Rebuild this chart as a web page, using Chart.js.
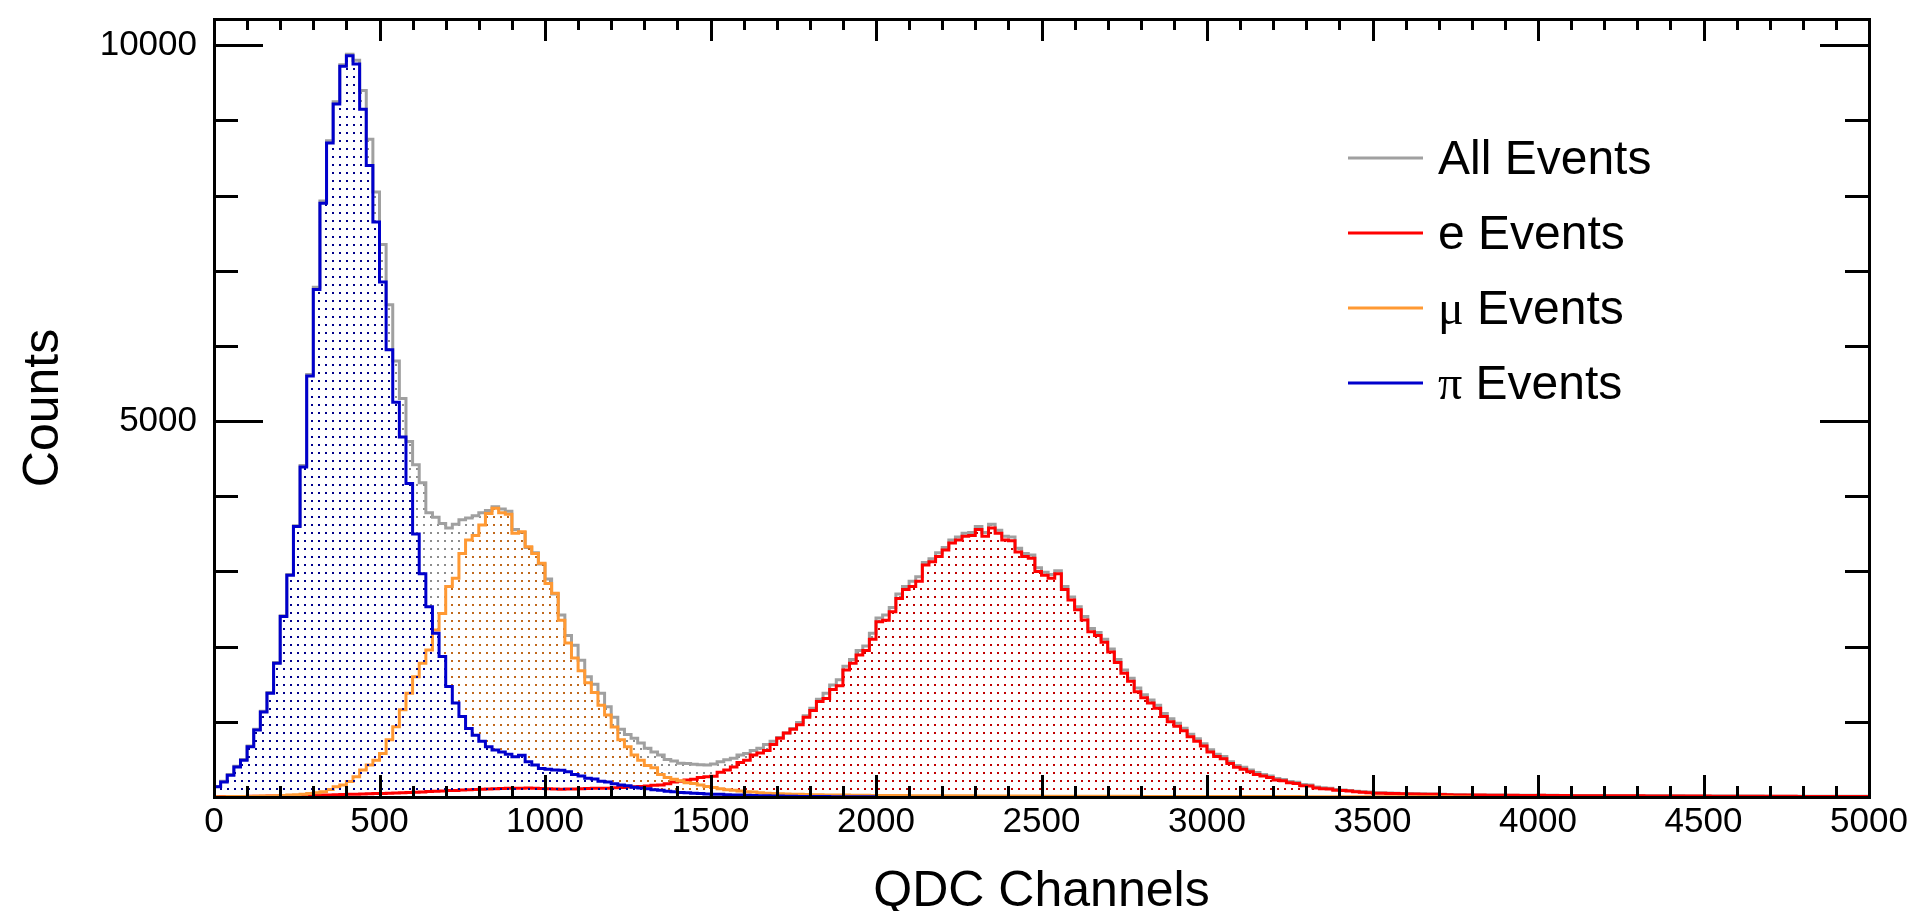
<!DOCTYPE html>
<html>
<head>
<meta charset="utf-8">
<title>QDC spectrum</title>
<script src="https://cdn.jsdelivr.net/npm/chart.js@4.4.1/dist/chart.umd.min.js"></script>
<style>
    html, body { margin: 0; padding: 0; background: #fff; }
    #wrap { width: 1916px; height: 911px; }
</style>
</head>
<body>
<div id="wrap"><canvas id="qdcChart" width="1916" height="911"></canvas></div>
<script>
// histogram bins are 20 QDC channels wide, first bin starts at channel 0
const binWidth = 20;

const xTickLabels = [0, 500, 1000, 1500, 2000, 2500, 3000, 3500, 4000, 4500, 5000];
const yTickLabels = [5000, 10000];

const seriesLabels = ['All Events', 'e Events', '\u03bc Events', '\u03c0 Events'];

const allEvents = [
    75, 140, 210, 300, 410, 500, 680, 900, 1140, 1390,
    1790, 2410, 2960, 3610, 4410, 5620, 6780, 7930, 8730, 9250,
    9740, 9880, 9800, 9400, 8750, 8050, 7350, 6550, 5800, 5300,
    4730, 4420, 4180, 3780, 3720, 3640, 3580, 3630, 3690, 3710,
    3740, 3780, 3810, 3860, 3830, 3800, 3560, 3520, 3320, 3250,
    3100, 2900, 2700, 2420, 2150, 2020, 1820, 1600, 1500, 1380,
    1200, 1060, 900, 830, 780, 720, 650, 600, 560, 500,
    480, 450, 445, 435, 428, 425, 440, 470, 495, 514,
    560, 580, 620, 650, 700, 740, 790, 850, 910, 990,
    1080, 1180, 1300, 1380, 1490, 1560, 1740, 1830, 1950, 2010,
    2180, 2380, 2420, 2520, 2700, 2800, 2870, 2930, 3120, 3170,
    3250, 3320, 3420, 3460, 3510, 3520, 3600, 3520, 3630, 3550,
    3470, 3460, 3310, 3240, 3220, 3050, 2990, 2960, 3010, 2800,
    2660, 2530, 2400, 2240, 2190, 2100, 1970, 1830, 1690, 1580,
    1450, 1360, 1290, 1220, 1110, 1040, 980, 915, 835, 775,
    710, 630, 570, 540, 470, 420, 395, 360, 325, 300,
    280, 245, 232, 205, 195, 165, 158, 132, 122, 118,
    100, 94, 88, 78, 70, 65, 57, 55, 53, 50,
    47, 45, 44, 42, 40, 39, 36, 34, 31, 30,
    28, 27, 27, 26, 25, 25, 24, 24, 23, 23,
    22, 24, 23, 22, 21, 21, 20, 20, 20, 19,
    19, 18, 18, 18, 17, 17, 17, 16, 16, 16,
    15, 15, 15, 14, 14, 14, 14, 13, 13, 13,
    13, 12, 12, 12, 12, 11, 11, 11, 11, 11,
    10, 10, 10, 10, 10, 9, 9, 9, 9, 9
];

const eEvents = [
    3, 4, 5, 6, 7, 8, 9, 10, 11, 12,
    14, 15, 17, 18, 20, 22, 24, 26, 28, 30,
    32, 35, 37, 40, 42, 45, 48, 50, 53, 56,
    60, 64, 68, 72, 76, 80, 85, 88, 92, 96,
    100, 103, 106, 110, 113, 115, 118, 116, 120, 117,
    112, 110, 106, 104, 105, 108, 110, 112, 115, 116,
    118, 122, 128, 132, 136, 140, 145, 155, 160, 175,
    200, 210, 225, 235, 260, 270, 275, 330, 360, 400,
    460, 490, 560, 585, 620, 700, 780, 850, 900, 960,
    1060, 1150, 1270, 1310, 1430, 1480, 1690, 1780, 1890, 1950,
    2100, 2330, 2350, 2465, 2640, 2760, 2800, 2870, 3085, 3130,
    3200, 3285, 3380, 3420, 3470, 3480, 3560, 3470, 3580, 3510,
    3420, 3410, 3260, 3200, 3175, 3000, 2950, 2910, 2970, 2760,
    2620, 2490, 2355, 2200, 2150, 2060, 1930, 1790, 1645, 1540,
    1400, 1320, 1250, 1180, 1070, 1000, 940, 880, 800, 740,
    680, 600, 540, 510, 445, 395, 370, 337, 300, 280,
    260, 226, 215, 190, 180, 150, 145, 120, 111, 108,
    90, 85, 80, 70, 62, 58, 50, 49, 48, 45,
    42, 40, 40, 38, 36, 35, 32, 30, 28, 27,
    26, 25, 25, 24, 23, 23, 22, 22, 21, 21,
    20, 22, 21, 20, 19, 19, 18, 18, 18, 17,
    17, 16, 16, 16, 15, 15, 15, 14, 14, 14,
    13, 13, 13, 12, 12, 12, 12, 11, 11, 11,
    11, 10, 10, 10, 10, 9, 9, 9, 9, 9,
    8, 8, 8, 8, 8, 7, 7, 7, 7, 7
];

const muEvents = [
    2, 3, 4, 5, 6, 7, 8, 10, 12, 14,
    17, 20, 25, 30, 38, 45, 55, 70, 100, 135,
    160, 205, 270, 360, 425, 490, 580, 760, 935, 1160,
    1380, 1600, 1780, 1955, 2220, 2440, 2800, 2910, 3240, 3420,
    3480, 3620, 3770, 3840, 3780, 3760, 3510, 3530, 3330, 3240,
    3110, 2840, 2710, 2350, 2050, 1850, 1680, 1520, 1390, 1220,
    1090, 930, 760, 670, 560, 490, 420, 390, 300, 260,
    235, 215, 190, 180, 160, 140, 125, 110, 95, 90,
    80, 70, 65, 55, 50, 45, 42, 40, 38, 35,
    33, 31, 30, 28, 27, 26, 25, 24, 23, 22,
    21, 21, 20, 20, 19, 19, 18, 18, 17, 17,
    16, 16, 16, 15, 15, 15, 14, 14, 14, 13,
    13, 13, 12, 12, 12, 12, 11, 11, 11, 11,
    10, 10, 10, 10, 10, 9, 9, 9, 9, 9,
    9, 8, 8, 8, 8, 8, 8, 7, 7, 7,
    7, 7, 7, 6, 6, 6, 6, 6, 6, 5,
    5, 5, 5, 5, 5, 4, 4, 4, 4, 4,
    4, 4, 3, 3, 3, 3, 3, 3, 3, 3,
    2, 2, 2, 2, 2, 2, 2, 2, 1, 1
];

const piEvents = [
    70, 135, 200, 290, 400, 490, 670, 890, 1130, 1380,
    1780, 2400, 2950, 3600, 4390, 5600, 6750, 7900, 8700, 9220,
    9720, 9860, 9750, 9150, 8400, 7650, 6850, 5950, 5250, 4790,
    4170, 3500, 2970, 2530, 2180, 1870, 1470, 1250, 1070, 910,
    820, 740, 670, 625, 600, 570, 535, 555, 470, 425,
    380, 370, 360, 355, 335, 300, 280, 250, 240, 210,
    200, 175, 160, 150, 130, 120, 110, 95, 90, 75,
    70, 60, 55, 50, 45, 40, 38, 35, 30, 28,
    25, 22, 20, 18, 15, 14, 12, 10, 9, 8,
    7, 6, 6, 5, 4, 4, 3, 3, 2, 2
];

const lineColors = ['#a0a0a0', '#ff0000', '#ff9933', '#0000cc'];
const dotColors = ['#8c8c8c', '#c00000', '#c0681c', '#00008b'];

const canvas = document.getElementById('qdcChart');
const ctx = canvas.getContext('2d');

// dotted fill like the ROOT fill style
function dotPattern(color) {
    const tile = document.createElement('canvas');
    tile.width = 7;
    tile.height = 8;
    const g = tile.getContext('2d');
    g.fillStyle = color;
    g.fillRect(3, 4, 2, 2);
    return ctx.createPattern(tile, 'repeat');
}

// bin contents -> points for a stepped line (one extra point closes the last bin)
function toSteps(values) {
    const pts = values.map((v, i) => ({ x: i * binWidth, y: v }));
    pts.push({ x: values.length * binWidth, y: values[values.length - 1] });
    return pts;
}

const seriesValues = [allEvents, eEvents, muEvents, piEvents];

const datasets = seriesValues.map((values, i) => ({
    label: seriesLabels[i],
    data: toSteps(values),
    borderColor: lineColors[i],
    backgroundColor: dotPattern(dotColors[i]),
    borderWidth: 3,
    fill: 'origin',
    stepped: 'after',
    pointRadius: 0,
    order: seriesValues.length - i
}));

// frame with ticks on all four sides, pointing inwards
const framePlugin = {
    id: 'frame',
    afterDatasetsDraw(chart) {
        const { ctx, chartArea: a, scales: { x, y } } = chart;
        ctx.save();
        ctx.strokeStyle = '#000';
        ctx.lineWidth = 3;
        ctx.beginPath();
        for (let v = 100; v < 5000; v += 100) {
            const px = Math.round(x.getPixelForValue(v)) + 0.5;
            const len = v % 500 === 0 ? 22 : 11;
            ctx.moveTo(px, a.bottom);
            ctx.lineTo(px, a.bottom - len);
            ctx.moveTo(px, a.top);
            ctx.lineTo(px, a.top + len);
        }
        for (let v = 1000; v <= 10000; v += 1000) {
            const py = Math.round(y.getPixelForValue(v)) + 0.5;
            const len = v % 5000 === 0 ? 49 : 24;
            ctx.moveTo(a.left, py);
            ctx.lineTo(a.left + len, py);
            ctx.moveTo(a.right, py);
            ctx.lineTo(a.right - len, py);
        }
        ctx.stroke();
        ctx.strokeRect(a.left + 0.5, a.top + 0.5, a.right - a.left, a.bottom - a.top);
        ctx.restore();
    }
};

const legendPlugin = {
    id: 'boxLegend',
    afterDraw(chart) {
        const { ctx } = chart;
        ctx.save();
        chart.data.datasets.forEach((ds, i) => {
            const ly = 158 + i * 75;
            ctx.strokeStyle = ds.borderColor;
            ctx.lineWidth = 3;
            ctx.beginPath();
            ctx.moveTo(1348, ly);
            ctx.lineTo(1423, ly);
            ctx.stroke();

            ctx.fillStyle = '#000';
            ctx.textBaseline = 'alphabetic';
            ctx.textAlign = 'left';
            let tx = 1438;
            let text = ds.label;
            if (/^[\u03bc\u03c0]/.test(text)) {
                ctx.font = '48px "Liberation Serif", "DejaVu Serif", serif';
                ctx.fillText(text[0], tx, ly + 16);
                tx += ctx.measureText(text[0]).width;
                text = text.slice(1);
            }
            ctx.font = '48px "Liberation Sans", Arial, sans-serif';
            ctx.fillText(text, tx, ly + 16);
        });
        ctx.restore();
    }
};

Chart.defaults.font.family = '"Liberation Sans", Arial, Helvetica, sans-serif';
Chart.defaults.color = '#000';

new Chart(ctx, {
    type: 'line',
    data: { datasets },
    options: {
        responsive: false,
        animation: false,
        devicePixelRatio: 1,
        layout: { padding: { left: 0, top: 19, right: 47, bottom: 0 } },
        plugins: {
            legend: { display: false },
            tooltip: { enabled: false }
        },
        scales: {
            x: {
                type: 'linear',
                min: 0,
                max: 5000,
                grid: { display: false, drawTicks: false },
                border: { display: false },
                afterBuildTicks: axis => { axis.ticks = xTickLabels.map(v => ({ value: v })); },
                afterFit: axis => {
                    axis.height = 114;
                    axis.paddingLeft = 0;
                    axis.paddingRight = 0;
                },
                ticks: {
                    font: { size: 35 },
                    padding: 4,
                    maxRotation: 0,
                    autoSkip: false,
                    callback: v => String(v)
                },
                title: {
                    display: true,
                    text: 'QDC Channels',
                    font: { size: 50, lineHeight: 1 },
                    padding: { top: 0, bottom: -6 }
                }
            },
            y: {
                type: 'linear',
                min: 0,
                max: 10350,
                grid: { display: false, drawTicks: false },
                border: { display: false },
                afterBuildTicks: axis => { axis.ticks = yTickLabels.map(v => ({ value: v })); },
                afterFit: axis => {
                    axis.width = 214;
                    axis.paddingTop = 0;
                    axis.paddingBottom = 0;
                },
                ticks: {
                    font: { size: 35 },
                    padding: 17,
                    callback: v => String(v)
                },
                title: {
                    display: true,
                    text: 'Counts',
                    font: { size: 50, lineHeight: 1 },
                    padding: { top: 19, bottom: 0 }
                }
            }
        }
    },
    plugins: [framePlugin, legendPlugin]
});
</script>
</body>
</html>
